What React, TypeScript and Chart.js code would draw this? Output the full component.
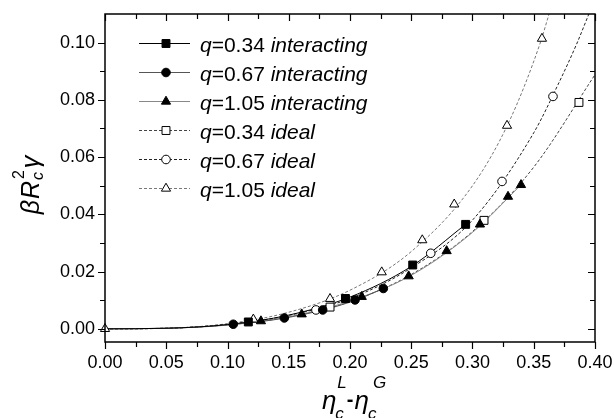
import React, { useEffect, useRef } from 'react';
import { Chart, registerables } from 'chart.js';

Chart.register(...registerables);

const FONT = '"Liberation Sans", Arial, Helvetica, sans-serif';

// Axis ranges and ticks
const X_MIN = 0;
const X_MAX = 0.4;
const Y_MIN = -0.0046;
const Y_MAX = 0.11;
const X_TICKS = [0, 0.05, 0.1, 0.15, 0.2, 0.25, 0.3, 0.35, 0.4];
const X_MINOR = [0.025, 0.075, 0.125, 0.175, 0.225, 0.275, 0.325, 0.375];
const Y_TICKS = [0, 0.02, 0.04, 0.06, 0.08, 0.1];
const Y_MINOR = [0.01, 0.03, 0.05, 0.07, 0.09];

// Legend text pieces
const Q_LABELS = ['0.34', '0.67', '1.05', '0.34', '0.67', '1.05'];
const KIND_LABELS = ['interacting', 'interacting', 'interacting', 'ideal', 'ideal', 'ideal'];

// Markers: interacting (filled)
const INT_034_X = [0.117, 0.1963, 0.2512, 0.2944];
const INT_034_Y = [0.0024, 0.0106, 0.0223, 0.0365];
const INT_067_X = [0.1047, 0.1464, 0.1777, 0.2041, 0.2272];
const INT_067_Y = [0.0016, 0.0038, 0.0066, 0.0101, 0.0141];
const INT_105_X = [0.1273, 0.1606, 0.2096, 0.2479, 0.2789, 0.3061, 0.329, 0.3396];
const INT_105_Y = [0.0027, 0.0051, 0.0112, 0.0184, 0.0272, 0.0365, 0.0462, 0.0503];

// Markers: ideal (open)
const IDL_034_X = [0.1837, 0.3094, 0.3869];
const IDL_034_Y = [0.0076, 0.0379, 0.0791];
const IDL_067_X = [0.1722, 0.2659, 0.3241, 0.3657];
const IDL_067_Y = [0.0066, 0.0264, 0.0515, 0.0812];
const IDL_105_X = [0, 0.1211, 0.1837, 0.2259, 0.259, 0.2851, 0.3282, 0.3567];
const IDL_105_Y = [0, 0.0033, 0.0105, 0.0198, 0.031, 0.0435, 0.071, 0.1014];

// Fitted curves
const INT_034_CX = [0, 0.05, 0.1, 0.15, 0.2, 0.25, 0.2944];
const INT_034_CY = [0, 0.0002, 0.0015, 0.0048, 0.0111, 0.0218, 0.0365];
const INT_067_CX = [0, 0.05, 0.1, 0.15, 0.2, 0.2272];
const INT_067_CY = [0, 0.0002, 0.0014, 0.004, 0.0093, 0.0141];
const INT_105_CX = [0, 0.05, 0.1, 0.15, 0.2, 0.25, 0.3, 0.3396];
const INT_105_CY = [0, 0.0002, 0.0013, 0.0042, 0.0097, 0.0187, 0.0337, 0.0503];
const IDL_034_CX = [0, 0.05, 0.1, 0.15, 0.2, 0.25, 0.3, 0.35, 0.4];
const IDL_034_CY = [0, 0.0002, 0.0014, 0.0042, 0.0095, 0.019, 0.034, 0.0565, 0.0888];
const IDL_067_CX = [0, 0.05, 0.1, 0.15, 0.2, 0.25, 0.3, 0.35, 0.37, 0.385, 0.395];
const IDL_067_CY = [0, 0.0002, 0.0016, 0.0047, 0.0106, 0.0213, 0.038, 0.0685, 0.0855, 0.0995, 0.11];
const IDL_105_CX = [0, 0.05, 0.1, 0.15, 0.2, 0.25, 0.3, 0.33, 0.355, 0.3625];
const IDL_105_CY = [0, 0.0002, 0.0018, 0.0058, 0.0135, 0.027, 0.05, 0.0725, 0.0995, 0.11];

const zip = (xs: number[], ys: number[]) => xs.map((x, i) => ({ x, y: ys[i] }));

const STYLES = ['rect', 'circle', 'triangle', 'rect', 'circle', 'triangle'];
const RADII = [5.6, 4.3, 5.3, 5.6, 4.3, 5.3];
const FILLED = [true, true, true, false, false, false];
const COLORS = ['#000000', '#555555', '#888888', '#444444', '#222222', '#777777'];
const DASHED = [false, false, false, true, true, true];

const MARKER_X = [INT_034_X, INT_067_X, INT_105_X, IDL_034_X, IDL_067_X, IDL_105_X];
const MARKER_Y = [INT_034_Y, INT_067_Y, INT_105_Y, IDL_034_Y, IDL_067_Y, IDL_105_Y];
const CURVE_X = [INT_034_CX, INT_067_CX, INT_105_CX, IDL_034_CX, IDL_067_CX, IDL_105_CX];
const CURVE_Y = [INT_034_CY, INT_067_CY, INT_105_CY, IDL_034_CY, IDL_067_CY, IDL_105_CY];

const DASH = [3, 2];

function drawMarker(ctx: CanvasRenderingContext2D, style: string, x: number, y: number, r: number, filled: boolean) {
  ctx.beginPath();
  if (style === 'rect') {
    const s = Math.SQRT1_2 * r;
    ctx.rect(x - s, y - s, 2 * s, 2 * s);
  } else if (style === 'circle') {
    ctx.arc(x, y, r, 0, Math.PI * 2);
  } else {
    ctx.moveTo(x, y - r);
    ctx.lineTo(x + 0.866 * r, y + 0.5 * r);
    ctx.lineTo(x - 0.866 * r, y + 0.5 * r);
    ctx.closePath();
  }
  ctx.setLineDash([]);
  ctx.fillStyle = filled ? '#000' : '#fff';
  ctx.fill();
  ctx.strokeStyle = '#000';
  ctx.lineWidth = 1;
  ctx.stroke();
}

const zeroPad = (s: any) => {
  s.paddingLeft = 0;
  s.paddingRight = 0;
  s.paddingTop = 0;
  s.paddingBottom = 0;
};

const decorPlugin = {
  id: 'decor',
  afterDraw(chart: any) {
    const { ctx, scales } = chart;
    const xs = scales.x;
    const ys = scales.y;
    const L = xs.getPixelForValue(X_MIN);
    const R = xs.getPixelForValue(X_MAX);
    const T = ys.getPixelForValue(Y_MAX);
    const B = ys.getPixelForValue(Y_MIN);
    ctx.save();
    // frame
    ctx.setLineDash([]);
    ctx.strokeStyle = '#000';
    ctx.lineWidth = 1.5;
    ctx.strokeRect(L, T, R - L, B - T);
    // ticks
    ctx.lineWidth = 1.2;
    ctx.beginPath();
    const xt = (v: number, len: number) => {
      const p = Math.round(xs.getPixelForValue(v)) + 0.5;
      ctx.moveTo(p, B);
      ctx.lineTo(p, B + len);
      ctx.moveTo(p, T);
      ctx.lineTo(p, T + len);
    };
    const yt = (v: number, len: number) => {
      const p = Math.round(ys.getPixelForValue(v)) + 0.5;
      ctx.moveTo(L, p);
      ctx.lineTo(L - len, p);
      ctx.moveTo(R, p);
      ctx.lineTo(R - len, p);
    };
    X_TICKS.forEach((v) => xt(v, 7));
    X_MINOR.forEach((v) => xt(v, 5));
    Y_TICKS.forEach((v) => yt(v, 7));
    Y_MINOR.forEach((v) => yt(v, 5));
    ctx.stroke();

    // legend
    const lx0 = 139, lx1 = 190, mx = 166, tx = 200;
    for (let i = 0; i < 6; i++) {
      const base = 52 + i * 29;
      const ly = base - 8.5;
      ctx.beginPath();
      ctx.setLineDash(DASHED[i] ? DASH : []);
      ctx.strokeStyle = COLORS[i];
      ctx.lineWidth = 1;
      ctx.moveTo(lx0, ly);
      ctx.lineTo(lx1, ly);
      ctx.stroke();
      drawMarker(ctx, STYLES[i], mx, ly, RADII[i], FILLED[i]);
      ctx.fillStyle = '#000';
      ctx.textBaseline = 'alphabetic';
      ctx.textAlign = 'left';
      let x = tx;
      ctx.font = `italic 21px ${FONT}`;
      ctx.fillText('q', x, base);
      x += ctx.measureText('q').width;
      ctx.font = `21px ${FONT}`;
      const mid = '=' + Q_LABELS[i] + ' ';
      ctx.fillText(mid, x, base);
      x += ctx.measureText(mid).width;
      ctx.font = `italic 21px ${FONT}`;
      ctx.fillText(KIND_LABELS[i], x, base);
    }

    // y title
    ctx.save();
    ctx.translate(39, 185);
    ctx.rotate(-Math.PI / 2);
    ctx.fillStyle = '#000';
    ctx.textBaseline = 'alphabetic';
    ctx.textAlign = 'left';
    ctx.font = `italic 25px ${FONT}`;
    const wB = ctx.measureText('β').width;
    const wR = ctx.measureText('R').width;
    const wG = ctx.measureText('γ').width;
    ctx.font = `italic 16px ${FONT}`;
    const wc = ctx.measureText('c').width;
    ctx.font = `16px ${FONT}`;
    const w2 = ctx.measureText('2').width;
    const col = Math.max(wc, w2) + 3;
    const total = wB + wR + col + wG + 2;
    let u = -total / 2;
    ctx.font = `italic 25px ${FONT}`;
    ctx.fillText('β', u, 0);
    u += wB + 1;
    ctx.fillText('R', u, 0);
    u += wR + 1;
    ctx.font = `italic 16px ${FONT}`;
    ctx.fillText('c', u, 4);
    ctx.font = `16px ${FONT}`;
    ctx.fillText('2', u + 1, -15);
    u += col;
    ctx.font = `italic 25px ${FONT}`;
    ctx.fillText('γ', u, 0);
    ctx.restore();

    // x title
    ctx.fillStyle = '#000';
    ctx.textBaseline = 'alphabetic';
    ctx.textAlign = 'left';
    ctx.font = `italic 26px ${FONT}`;
    const wE = ctx.measureText('η').width;
    ctx.font = `bold 20px ${FONT}`;
    const wD = ctx.measureText('-').width;
    ctx.font = `italic 17px ${FONT}`;
    const wL = ctx.measureText('L').width;
    const wGG = ctx.measureText('G').width;
    const wcc = ctx.measureText('c').width;
    const col1 = Math.max(wL, wcc) + 1;
    const col2 = Math.max(wGG + 4, wcc);
    const tot = wE + col1 + wD + 1 + wE + col2;
    let px = (L + R) / 2 - tot / 2 + 4;
    const by = 409;
    ctx.font = `italic 26px ${FONT}`;
    ctx.fillText('η', px, by);
    px += wE;
    ctx.font = `italic 17px ${FONT}`;
    ctx.fillText('c', px - 1, by + 10);
    ctx.fillText('L', px + 1, by - 21);
    px += col1;
    ctx.font = `bold 20px ${FONT}`;
    ctx.fillText('-', px, by - 3);
    px += wD + 1;
    ctx.font = `italic 26px ${FONT}`;
    ctx.fillText('η', px, by);
    px += wE;
    ctx.font = `italic 17px ${FONT}`;
    ctx.fillText('c', px - 1, by + 10);
    ctx.fillText('G', px + 4, by - 21);

    ctx.restore();
  },
};

export default function App() {
  const ref = useRef<HTMLCanvasElement>(null);
  useEffect(() => {
    document.body.style.margin = '0';
    const canvas = ref.current;
    if (!canvas) return;
    const datasets: any[] = [];
    for (let i = 0; i < 6; i++) {
      datasets.push({
        data: zip(MARKER_X[i], MARKER_Y[i]),
        showLine: false,
        pointStyle: STYLES[i],
        pointRadius: RADII[i],
        pointBackgroundColor: FILLED[i] ? '#000' : '#fff',
        pointBorderColor: '#000',
        pointBorderWidth: 1,
        clip: false,
        order: 0,
      });
    }
    for (let i = 0; i < 6; i++) {
      datasets.push({
        data: zip(CURVE_X[i], CURVE_Y[i]),
        showLine: true,
        borderColor: COLORS[i],
        borderWidth: 1,
        borderDash: DASHED[i] ? DASH : [],
        pointRadius: 0,
        cubicInterpolationMode: 'monotone',
        clip: false,
        order: 1,
      });
    }
    const chart = new Chart(canvas, {
      type: 'line',
      data: { datasets },
      options: {
        animation: false,
        responsive: false,
        events: [],
        layout: { padding: { left: 0, right: 19, top: 14, bottom: 0 } },
        plugins: { legend: { display: false }, tooltip: { enabled: false } },
        scales: {
          x: {
            type: 'linear',
            min: X_MIN,
            max: X_MAX,
            grid: { display: false, drawTicks: false },
            border: { display: false },
            ticks: {
              color: '#000',
              font: { family: FONT, size: 18 },
              padding: 10,
              maxRotation: 0,
              autoSkip: false,
              callback: (v: any) => Number(v).toFixed(2),
            },
            afterBuildTicks: (s: any) => {
              s.ticks = X_TICKS.map((v) => ({ value: v }));
            },
            afterFit: (s: any) => {
              s.height = 76;
              zeroPad(s);
            },
          },
          y: {
            type: 'linear',
            min: Y_MIN,
            max: Y_MAX,
            grid: { display: false, drawTicks: false },
            border: { display: false },
            ticks: {
              color: '#000',
              font: { family: FONT, size: 18 },
              padding: 10,
              autoSkip: false,
              callback: (v: any) => Number(v).toFixed(2),
            },
            afterBuildTicks: (s: any) => {
              s.ticks = Y_TICKS.map((v) => ({ value: v }));
            },
            afterFit: (s: any) => {
              s.width = 105;
              zeroPad(s);
            },
          },
        },
      },
      plugins: [decorPlugin],
    });
    return () => chart.destroy();
  }, []);
  return <canvas ref={ref} width={614} height={418} style={{ display: 'block' }} />;
}
